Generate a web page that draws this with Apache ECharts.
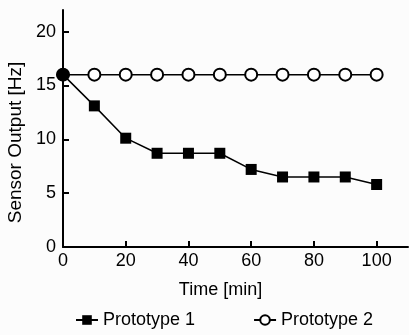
<!DOCTYPE html>
<html>
<head>
<meta charset="utf-8">
<script src="https://cdn.jsdelivr.net/npm/echarts@6/dist/echarts.min.js"></script>
<style>
  html, body { margin: 0; padding: 0; background: #fcfcfc; }
  #chart { width: 409px; height: 335px; }
</style>
</head>
<body>
<div id="chart"></div>
<script>
  // time in minutes
  const times = [0, 10, 20, 30, 40, 50, 60, 70, 80, 90, 100]
  const prototype1 = [16, 13.1, 10.1, 8.7, 8.7, 8.7, 7.2, 6.5, 6.5, 6.5, 5.8]
  const prototype2 = [16, 16, 16, 16, 16, 16, 16, 16, 16, 16, 16]
  const xTicks = [0, 20, 40, 60, 80, 100]
  const yTicks = [0, 5, 10, 15, 20]

  const font = 'Liberation Sans, Arial, sans-serif'
  const toPairs = vals => vals.map((v, i) => [times[i], v])

  const p1Data = toPairs(prototype1)
  // first point shared by both curves is drawn as a filled circle
  p1Data[0] = { value: p1Data[0], symbol: 'circle', symbolSize: 13 }

  const chart = echarts.init(document.getElementById('chart'))
  chart.setOption({
    animation: false,
    grid: { left: 63, right: 1, top: 10, bottom: 88, outerBoundsMode: 'none', containLabel: false },
    legend: {
      bottom: 1,
      left: 70,
      itemGap: 58,
      itemWidth: 22,
      itemHeight: 12,
      textStyle: { fontFamily: font, fontSize: 18, color: '#000' },
      data: ['Prototype 1', 'Prototype 2']
    },
    xAxis: {
      type: 'value',
      min: 0,
      max: 110,
      name: 'Time [min]',
      nameLocation: 'middle',
      nameGap: 34,
      nameTextStyle: { fontFamily: font, fontSize: 18, color: '#000', padding: [0, 30, 0, 0] },
      axisLine: { lineStyle: { color: '#000', width: 2 } },
      axisTick: { inside: true, length: 6, customValues: xTicks, lineStyle: { color: '#000', width: 2 } },
      axisLabel: { customValues: xTicks, fontFamily: font, fontSize: 18, color: '#000', margin: 5 },
      splitLine: { show: false }
    },
    yAxis: {
      type: 'value',
      min: 0,
      max: 22,
      name: 'Sensor Output [Hz]',
      nameLocation: 'middle',
      nameGap: 25,
      nameTextStyle: { fontFamily: font, fontSize: 19, color: '#000', padding: [0, 28, 0, 0] },
      axisLine: { lineStyle: { color: '#000', width: 2 } },
      axisTick: { inside: true, length: 6, customValues: yTicks, lineStyle: { color: '#000', width: 2 } },
      axisLabel: { customValues: yTicks, fontFamily: font, fontSize: 18, color: '#000', margin: 7 },
      splitLine: { show: false }
    },
    series: [
      {
        name: 'Prototype 2',
        type: 'line',
        data: toPairs(prototype2),
        symbol: 'circle',
        symbolSize: 12,
        lineStyle: { color: '#000', width: 1.5 },
        itemStyle: { color: '#fff', borderColor: '#000', borderWidth: 2 },
        z: 2
      },
      {
        name: 'Prototype 1',
        type: 'line',
        data: p1Data,
        symbol: 'rect',
        symbolSize: 11,
        lineStyle: { color: '#000', width: 1.5 },
        itemStyle: { color: '#000' },
        z: 3
      }
    ]
  })
</script>
</body>
</html>
